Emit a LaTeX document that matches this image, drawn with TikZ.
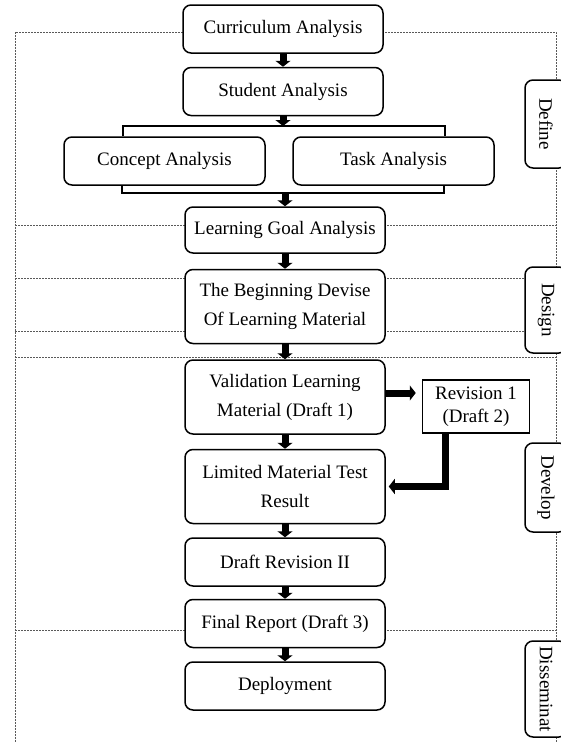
\documentclass[tikz,border=0pt]{standalone}
\usepackage{fontspec}
\setmainfont{Liberation Serif}
\usetikzlibrary{positioning, arrows.meta}

\begin{document}
\begin{tikzpicture}[x=1pt, y=-1pt,
  box/.style={draw, line width=1.5pt, rounded corners=8pt, fill=white, minimum width=200pt, minimum height=48pt, align=center, font=\fontsize{19}{29}\selectfont},
  tall/.style={box, minimum height=74pt},
  flow/.style={line width=7pt, -{Triangle[width=15pt,length=6pt]}},
  brk/.style={line width=1.8pt},
  zone/.style={dash pattern=on 2pt off 1pt, gray!70!black, line width=0.7pt},
  phase/.style={draw, line width=1.5pt, rounded corners=8pt, fill=white, rotate=-90, minimum height=42pt, font=\fontsize{19}{23}\selectfont}]
\clip (0,0) rectangle (561,742);

% phase frames
\draw[zone] (15,742) -- (15,32) -- (556,32) -- (556,742);
\foreach \yy in {225,278,331,357,630}
  \draw[zone] (15,\yy) -- (556,\yy);

% main column
\node[box] (curr) at (283,29) {Curriculum Analysis};
\node[box, below=13pt of curr] (stud) {Student Analysis};
\node[box, minimum width=201pt] (conc) at (164.5,161) {Concept Analysis};
\node[box, minimum width=201pt] (task) at (393.5,161) {Task Analysis};
\node[box, minimum height=46pt] (goal) at (285,230) {Learning Goal Analysis};
\node[tall, below=15pt of goal] (devise) {The Beginning Devise\\Of Learning Material};
\node[tall, below=15pt of devise] (valid) {Validation Learning\\Material (Draft 1)};
\node[tall, below=14pt of valid] (limit) {Limited Material Test\\Result};
\node[box, below=13pt of limit] (drev) {Draft Revision II};
\node[box, below=12pt of drev] (final) {Final Report (Draft 3)};
\node[box, below=13pt of final] (deploy) {Deployment};
\node[draw, line width=1.5pt, fill=white, minimum width=107pt, minimum height=53pt, align=center, font=\fontsize{19}{23}\selectfont] (rev) at (476,406.5) {Revision 1\\(Draft 2)};

% phase labels
\node[phase, minimum width=88pt] (define) at (546,124) {Define};
\node[phase, minimum width=86pt] (design) at (546,310) {Design};
\node[phase, minimum width=89pt] (develop) at (546,487.5) {Develop};
\node[phase, minimum width=96pt] (dissem) at (546,689) {Disseminat};

% split and join
\coordinate (bl) at (123,126);
\coordinate (br) at (445,126);
\coordinate (cl) at (122,193);
\coordinate (cr) at (444,193);
\draw[brk] (bl |- conc.north) -- (bl) -- (br) -- (br |- task.north);
\draw[brk] (cl |- conc.south) -- (cl) -- (cr) -- (cr |- task.south);

% arrows
\draw[flow] (curr.south) -- (stud.north);
\draw[flow] (stud.south) -- (stud.south |- bl);
\draw[flow] (goal.north |- cl) -- (goal.north);
\draw[flow] (goal.south) -- (devise.north);
\draw[flow] (devise.south) -- (valid.north);
\draw[flow] (valid.south) -- (limit.north);
\draw[flow] (limit.south) -- (drev.north);
\draw[flow] (drev.south) -- (final.north);
\draw[flow] (final.south) -- (deploy.north);
\draw[flow, shorten >=6pt] ([yshift=4pt]valid.east) -- ([yshift=4pt]valid.east -| rev.west);
\draw[flow, shorten >=3pt] ([xshift=-31pt]rev.south) |- (limit.east);
\end{tikzpicture}
\end{document}
